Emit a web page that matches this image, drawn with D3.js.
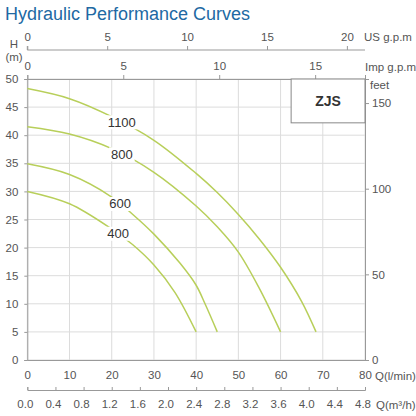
<!DOCTYPE html>
<html>
<head>
<meta charset="utf-8">
<script src="https://cdn.jsdelivr.net/npm/d3@7"></script>
<style>
  body { margin: 0; background: #fff; }
  svg { font-family: "Liberation Sans", Arial, sans-serif; }
  .tick text { fill: #555; }
</style>
</head>
<body>
<script>
// curve data, Q in l/min, H in m
const curveNames = ["1100", "800", "600", "400"]
const q1100 = [0, 10, 20, 30, 40, 45, 50, 55, 60, 65, 68.4]
const h1100 = [48.3, 46.5, 43.3, 39.1, 33.2, 29.8, 25.9, 21.5, 16.5, 10.4, 5]
const q800 = [0, 10, 20, 30, 40, 45, 50, 55, 60]
const h800 = [41.5, 40.2, 37.6, 33.4, 27.4, 23.7, 19.2, 12.7, 5]
const q600 = [0, 10, 20, 25, 30, 36.2, 40, 42.1, 45]
const h600 = [34.9, 33.0, 29.0, 25.9, 22.4, 17.2, 13.3, 10, 5]
const q400 = [0, 10, 20, 25, 30, 35, 40]
const h400 = [30, 27.8, 23.3, 20.5, 16.9, 12, 5]
const labelQ = [22.4, 22.4, 22, 21.5]

const qTicks = [0, 10, 20, 30, 40, 50, 60, 70, 80]
const hTicks = [0, 5, 10, 15, 20, 25, 30, 35, 40, 45, 50]
const usTicks = [0, 5, 10, 15, 20]
const impTicks = [0, 5, 10, 15]
const m3Ticks = [0, 0.4, 0.8, 1.2, 1.6, 2, 2.4, 2.8, 3.2, 3.6, 4, 4.4, 4.8]
const feetTicks = [0, 50, 100, 150]
const modelName = "ZJS"

const W = 416, H = 416
const FS = 11.5
const svg = d3.select("body").append("svg").attr("width", W).attr("height", H)

const x = d3.scaleLinear().domain([0, 80]).range([27.3, 365])
const y = d3.scaleLinear().domain([0, 50]).range([360, 79])
// other unit scales share the same pixel range
const xUS = d3.scaleLinear().domain([0, 80 / 3.78541]).range(x.range())
const xImp = d3.scaleLinear().domain([0, 80 / 4.54609]).range(x.range())
const xM3 = d3.scaleLinear().domain([0, 4.8]).range(x.range())
const yFt = d3.scaleLinear().domain([0, 50 / 0.3048]).range(y.range())

svg.append("text").attr("x", 5).attr("y", 20)
  .attr("font-size", 18).attr("fill", "#2169a3")
  .text("Hydraulic Performance Curves")

// grid
svg.append("g").selectAll("line").data(qTicks).join("line")
  .attr("x1", d => x(d)).attr("x2", d => x(d))
  .attr("y1", y(0)).attr("y2", y(50))
  .attr("stroke", "#dcdcdc").attr("stroke-width", 1)
svg.append("g").selectAll("line").data(hTicks).join("line")
  .attr("x1", x(0)).attr("x2", x(80))
  .attr("y1", d => y(d)).attr("y2", d => y(d))
  .attr("stroke", "#dcdcdc").attr("stroke-width", 1)

function styleAxis(g) {
  g.selectAll("path, line").attr("stroke", "#999")
  g.selectAll("text").attr("font-size", FS).attr("fill", "#555")
}

// left H axis
svg.append("g").attr("transform", `translate(${x(0)},0)`)
  .call(d3.axisLeft(y).tickValues(hTicks).tickSize(3).tickPadding(6))
  .call(styleAxis)
// bottom Q axis (l/min)
svg.append("g").attr("transform", `translate(0,${y(0)})`)
  .call(d3.axisBottom(x).tickValues(qTicks).tickSize(0).tickPadding(11))
  .call(styleAxis)
// top frame with imp ticks
svg.append("g").attr("transform", `translate(0,${y(50)})`)
  .call(d3.axisTop(xImp).tickValues(impTicks).tickSize(4).tickPadding(5))
  .call(styleAxis)
// right frame with feet ticks
svg.append("g").attr("transform", `translate(${x(80)},0)`)
  .call(d3.axisRight(yFt).tickValues(feetTicks).tickSize(4).tickPadding(3))
  .call(styleAxis)
// US gpm axis
const usAxis = svg.append("g").attr("transform", "translate(0,50)")
  .call(d3.axisTop(xUS).tickValues(usTicks).tickSize(4).tickPadding(5))
  .call(styleAxis)
usAxis.select(".domain").attr("d", `M${x(0)},-4V0H${x(80)}`)
// m3/h axis
const m3Axis = svg.append("g").attr("transform", "translate(0,390)")
  .call(d3.axisBottom(xM3).tickValues(m3Ticks).tickSize(-3).tickPadding(10))
  .call(styleAxis)
m3Axis.selectAll(".tick text").attr("dx", -2.5)

// axis unit labels
const units = [
  ["H", 14, 48, "middle"], ["(m)", 14, 61, "middle"],
  ["US g.p.m", 364, 41, "start"], ["Imp g.p.m", 365, 71, "start"],
  ["feet", 370, 89, "start"], ["Q(l/min)", 375, 380, "start"],
  ["Q(m\u00b3/h)", 376, 409, "start"]
]
svg.append("g").selectAll("text").data(units).join("text")
  .attr("x", d => d[1]).attr("y", d => d[2]).attr("text-anchor", d => d[3])
  .attr("font-size", FS).attr("fill", "#555").text(d => d[0])

// model box
svg.append("rect").attr("x", x(62.5)).attr("y", y(50))
  .attr("width", x(80) - x(62.5)).attr("height", y(42.2) - y(50))
  .attr("fill", "#fff").attr("stroke", "#888")
svg.append("text").attr("x", (x(62.5) + x(80)) / 2).attr("y", y(46.1) + 5)
  .attr("text-anchor", "middle").attr("font-size", 14).attr("font-weight", "bold")
  .attr("fill", "#333").text(modelName)

// curves
const series = [[q1100, h1100], [q800, h800], [q600, h600], [q400, h400]]
  .map((s, i) => ({name: curveNames[i], pts: s[0].map((q, j) => [q, s[1][j]]), lq: labelQ[i]}))

const line = d3.line().x(d => x(d[0])).y(d => y(d[1])).curve(d3.curveCatmullRom.alpha(0.5))
svg.append("g").selectAll("path").data(series).join("path")
  .attr("d", d => line(d.pts))
  .attr("fill", "none").attr("stroke", "#b8cf5a").attr("stroke-width", 1.5)

// curve labels sit on the curve with white behind
function hAt(pts, q) {
  for (let i = 1; i < pts.length; i++) {
    if (q <= pts[i][0]) {
      let t = (q - pts[i - 1][0]) / (pts[i][0] - pts[i - 1][0])
      return pts[i - 1][1] + t * (pts[i][1] - pts[i - 1][1])
    }
  }
  return pts[pts.length - 1][1]
}
const lab = svg.append("g").selectAll("g").data(series).join("g")
  .attr("transform", d => `translate(${x(d.lq)},${y(hAt(d.pts, d.lq))})`)
lab.append("rect")
  .attr("x", d => -d.name.length * 3.6 - 2).attr("y", -7)
  .attr("width", d => d.name.length * 7.2 + 4).attr("height", 14)
  .attr("fill", "#fff")
lab.append("text").attr("text-anchor", "middle").attr("y", 4.5)
  .attr("font-size", 13).attr("fill", "#333").text(d => d.name)
</script>
</body>
</html>
